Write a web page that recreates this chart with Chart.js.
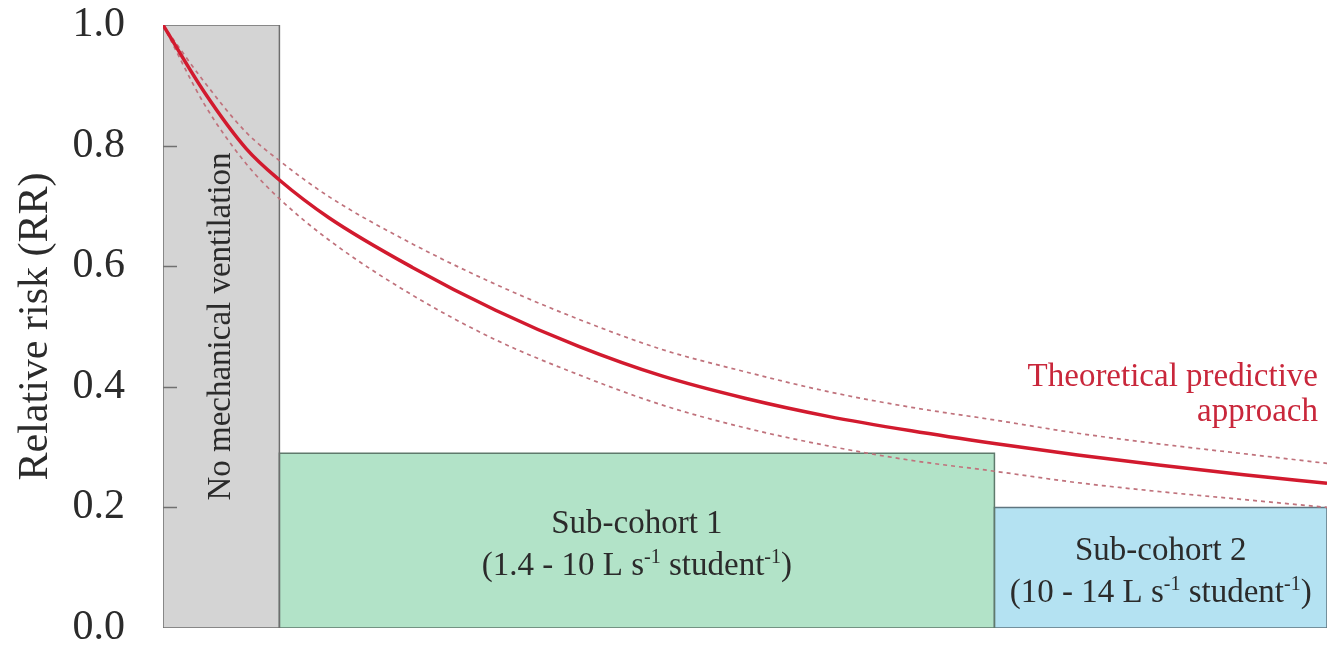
<!DOCTYPE html>
<html>
<head>
<meta charset="utf-8">
<script src="https://cdn.jsdelivr.net/npm/chart.js@4.4.1/dist/chart.umd.min.js"></script>
<style>
  html, body { margin: 0; padding: 0; background: #ffffff; }
  #wrap { width: 1327px; height: 649px; position: relative; }
</style>
</head>
<body>
<div id="wrap"><canvas id="chart"></canvas></div>
<script>
// Ventilation rate (L s-1 student-1) at which the prediction is sampled
const ventilationRate = [0, 0.5, 1, 1.4, 2, 3, 4, 5, 6, 7, 8, 9, 10, 11, 12, 13, 14];
// Theoretical predictive approach: relative risk and its dashed bounds
const predictedRR    = [1.0, 0.888, 0.795, 0.743, 0.680, 0.598, 0.527, 0.467, 0.418, 0.381, 0.351, 0.327, 0.306, 0.287, 0.270, 0.254, 0.240];
const predictedUpper = [1.0, 0.905, 0.822, 0.775, 0.715, 0.637, 0.570, 0.512, 0.462, 0.425, 0.392, 0.366, 0.345, 0.323, 0.305, 0.289, 0.273];
const predictedLower = [1.0, 0.868, 0.770, 0.712, 0.643, 0.552, 0.478, 0.420, 0.370, 0.332, 0.302, 0.278, 0.260, 0.241, 0.226, 0.213, 0.200];

// Observed cohort groups: ventilation range and relative risk
const groupNames = ['No mechanical ventilation', 'Sub-cohort 1', 'Sub-cohort 2'];
const groupFrom  = [0, 1.4, 10];
const groupTo    = [1.4, 10, 14];
const groupRR    = [1.0, 0.29, 0.20];

// Value axis
const yTicks = [0.0, 0.2, 0.4, 0.6, 0.8, 1.0];
const yTitle = 'Relative risk (RR)';
const curveLabel = ['Theoretical predictive', 'approach'];

const SERIF = '"Liberation Serif", "Times New Roman", serif';
const groupFill   = ['#d4d4d4', '#b2e3c8', '#b4e2f2'];
const groupBorder = ['#6e6e6e', '#5f7a6c', '#5f7680'];

const toPoints = (xs, ys) => xs.map((x, i) => ({ x: x, y: ys[i] }));

// Each group: a filled top edge down to zero, plus its closed outline
const groupFills = groupNames.map((name, i) => ({
  label: name + ' (fill)',
  data: [{ x: groupFrom[i], y: groupRR[i] }, { x: groupTo[i], y: groupRR[i] }],
  backgroundColor: groupFill[i],
  borderWidth: 0,
  borderColor: 'rgba(0,0,0,0)',
  fill: 'origin',
  pointRadius: 0,
  tension: 0,
  order: 20 + i
}));
const groupOutlines = groupNames.map((name, i) => ({
  label: name,
  data: [
    { x: groupFrom[i], y: 0 }, { x: groupFrom[i], y: groupRR[i] },
    { x: groupTo[i], y: groupRR[i] }, { x: groupTo[i], y: 0 },
    { x: groupFrom[i], y: 0 }
  ],
  borderColor: groupBorder[i],
  borderWidth: 1.5,
  fill: false,
  pointRadius: 0,
  tension: 0,
  order: 10 + i
}));

const curveDatasets = [
  {
    label: 'Theoretical predictive approach',
    data: toPoints(ventilationRate, predictedRR),
    borderColor: '#d21a2e',
    borderWidth: 3.5,
    pointRadius: 0,
    fill: false,
    cubicInterpolationMode: 'monotone',
    order: 0
  },
  {
    label: 'Upper bound',
    data: toPoints(ventilationRate, predictedUpper),
    borderColor: '#c0727c',
    borderWidth: 1.7,
    borderDash: [4, 4],
    pointRadius: 0,
    fill: false,
    cubicInterpolationMode: 'monotone',
    order: 1
  },
  {
    label: 'Lower bound',
    data: toPoints(ventilationRate, predictedLower),
    borderColor: '#c0727c',
    borderWidth: 1.7,
    borderDash: [4, 4],
    pointRadius: 0,
    fill: false,
    cubicInterpolationMode: 'monotone',
    order: 2
  }
];

// Draws a centred line made of normal and superscript runs
function drawRich(ctx, parts, cx, baseline, size) {
  const supSize = Math.round(size * 0.6);
  let total = 0;
  parts.forEach(p => {
    ctx.font = (p.sup ? supSize : size) + 'px ' + SERIF;
    p.w = ctx.measureText(p.t).width;
    total += p.w;
  });
  let xx = cx - total / 2;
  ctx.textAlign = 'left';
  ctx.textBaseline = 'alphabetic';
  parts.forEach(p => {
    ctx.font = (p.sup ? supSize : size) + 'px ' + SERIF;
    ctx.fillText(p.t, xx, p.sup ? baseline - size * 0.36 : baseline);
    xx += p.w;
  });
}

const annotations = {
  id: 'annotations',
  afterDatasetsDraw(chart) {
    const { ctx, chartArea, scales: { x, y } } = chart;
    ctx.save();

    // inward tick marks on the value axis
    ctx.strokeStyle = '#707070';
    ctx.lineWidth = 1.5;
    yTicks.forEach(v => {
      if (v <= 0 || v >= 1) return;
      const py = Math.round(y.getPixelForValue(v)) + 0.5;
      ctx.beginPath();
      ctx.moveTo(chartArea.left, py);
      ctx.lineTo(chartArea.left + 14, py);
      ctx.stroke();
    });

    ctx.fillStyle = '#2b2b2b';

    // vertical label inside the first group
    const gx = x.getPixelForValue((groupFrom[0] + groupTo[0]) / 2);
    const gy = y.getPixelForValue(groupRR[0] / 2);
    ctx.save();
    ctx.translate(gx, gy);
    ctx.rotate(-Math.PI / 2);
    ctx.font = '33px ' + SERIF;
    ctx.textAlign = 'center';
    ctx.textBaseline = 'middle';
    ctx.fillText(groupNames[0], 0, 0);
    ctx.restore();

    // two-line labels inside the sub-cohort rectangles
    for (let i = 1; i < groupNames.length; i++) {
      const cx = x.getPixelForValue((groupFrom[i] + groupTo[i]) / 2);
      const mid = y.getPixelForValue(groupRR[i] / 2);
      ctx.font = '33px ' + SERIF;
      ctx.textAlign = 'center';
      ctx.textBaseline = 'alphabetic';
      ctx.fillText(groupNames[i], cx, mid - 8);
      drawRich(ctx, [
        { t: '(' + groupFrom[i] + ' - ' + groupTo[i] + ' L s' },
        { t: '-1', sup: true },
        { t: ' student' },
        { t: '-1', sup: true },
        { t: ')' }
      ], cx, mid + 34, 33);
    }

    // curve caption
    ctx.fillStyle = '#c9273b';
    ctx.font = '33px ' + SERIF;
    ctx.textAlign = 'right';
    ctx.textBaseline = 'alphabetic';
    const ly = y.getPixelForValue(0.4);
    ctx.fillText(curveLabel[0], chartArea.right - 9, ly - 1);
    ctx.fillText(curveLabel[1], chartArea.right - 9, ly + 34);

    ctx.restore();
  }
};

new Chart(document.getElementById('chart'), {
  type: 'line',
  data: { datasets: curveDatasets.concat(groupOutlines, groupFills) },
  options: {
    responsive: true,
    maintainAspectRatio: false,
    animation: false,
    layout: { padding: { top: 25, bottom: 21, left: 15, right: 0 } },
    plugins: {
      legend: { display: false },
      tooltip: { enabled: false }
    },
    scales: {
      x: {
        type: 'linear',
        min: 0,
        max: 14,
        display: false
      },
      y: {
        type: 'linear',
        min: 0,
        max: 1,
        afterFit(scale) {
          scale.width = 148;
          scale.paddingTop = 21;
          scale.paddingBottom = 21;
        },
        afterBuildTicks(scale) { scale.ticks = yTicks.map(v => ({ value: v })); },
        border: { display: false },
        grid: { display: false, drawTicks: false },
        ticks: {
          padding: 38,
          color: '#2b2b2b',
          font: { family: SERIF, size: 42, lineHeight: 1.0 },
          callback: v => Number(v).toFixed(1)
        },
        title: {
          display: true,
          text: yTitle,
          color: '#2b2b2b',
          padding: 0,
          font: { family: SERIF, size: 42, lineHeight: 1.0 }
        }
      }
    }
  },
  plugins: [annotations]
});
</script>
</body>
</html>
